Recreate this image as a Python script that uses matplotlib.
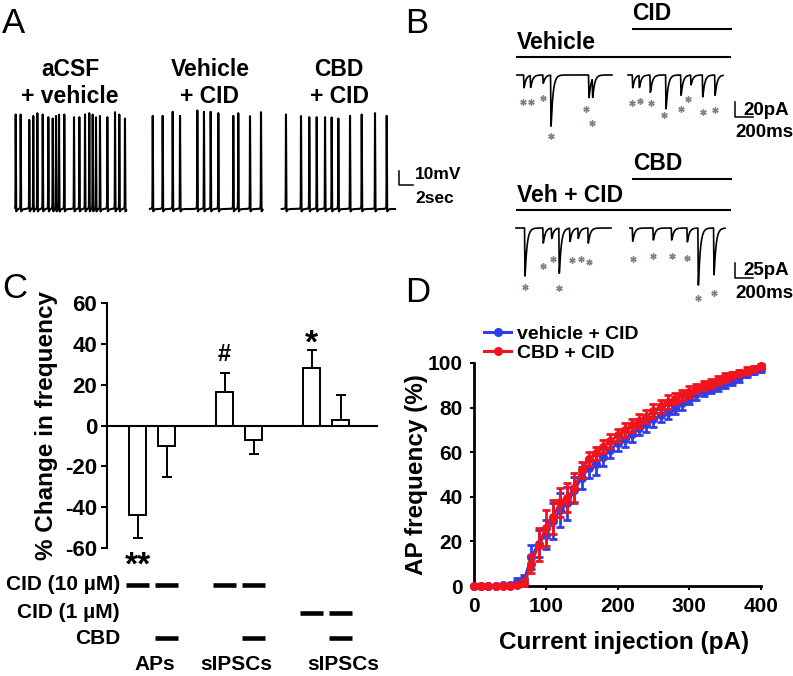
import numpy as np
import matplotlib
matplotlib.use("Agg")
import matplotlib.pyplot as plt
from matplotlib.lines import Line2D

plt.rcParams['font.family'] = ['Liberation Sans', 'DejaVu Sans']
plt.rcParams['font.weight'] = 'bold'
plt.rcParams['axes.labelweight'] = 'bold'
plt.rcParams['axes.unicode_minus'] = False

W, H = 793, 676

# ---------------- A: current clamp, spike times (s) and peaks (mV)
a_rest = -52
a_spk_1 = [0.1, 0.81, 2.04, 2.61, 3.19, 3.96, 4.76, 5.39, 5.86, 6.29, 7.04,
           8.43, 9.19, 10.0, 10.61, 11.1, 11.57, 12.14, 13.19, 14.29, 14.9, 15.71]
a_pk_1 = [18, 18, 14, 17, 19, 18, 16, 15, 17, 18, 18, 16, 16, 18, 19, 18, 16,
          17, 16, 20, 18, 15]
a_spk_2 = [0.39, 1.81, 3.24, 4.29, 6.76, 7.71, 8.67, 9.76, 11.9, 12.61, 14.29, 15.86]
a_pk_2 = [17, 17, 20, 17, 21, 20, 20, 19, 17, 19, 17, 20]
a_spk_3 = [0.61, 2.76, 3.94, 5.0, 6.19, 7.14, 8.09, 9.76, 11.43, 13.33, 15.0]
a_pk_3 = [18, 17, 16, 16, 16, 16, 15, 17, 18, 19, 17]
a_dur = [15.9, 16.1, 16.2]
a_titles = [("aCSF", "+ vehicle"), ("Vehicle", "+ CID"), ("CBD", "+ CID")]

# ---------------- B: voltage clamp sIPSCs, event times (ms) and amplitudes (pA)
b_veh_t = [78, 152, 292, 378, 800, 841]
b_veh_a = [17, 16, 11, 68, 30, 25]
b_veh_star_t = [63, 152, 292, 378, 767, 830]
b_veh_star_i = [-36, -36, -31, -82, -46, -64]
b_cid_t = [52, 126, 248, 422, 589, 700, 830, 967]
b_cid_a = [17, 16, 23, 45, 27, 13, 29, 27]
b_cid_star_t = [48, 133, 252, 400, 586, 670, 830, 967]
b_cid_star_i = [-37, -35, -37, -54, -46, -32, -49, -47]
b_vc_t = [100, 303, 397, 481, 600, 692, 803]
b_vc_a = [80, 25, 17, 75, 22, 17, 25]
b_vc_star_t = [100, 303, 414, 481, 619, 722, 811]
b_vc_star_i = [-98, -64, -51, -100, -53, -51, -56]
b_cbd_t = [30, 259, 463, 637, 759, 933]
b_cbd_a = [22, 20, 20, 23, 95, 78]
b_cbd_star_t = [30, 259, 463, 637, 752, 937]
b_cbd_star_i = [-52, -47, -47, -50, -117, -109]
b_dur = 1056

# ---------------- C: % change in frequency
c_vals = [-44, -10, 16.5, -7, 28, 2.5]
c_err = [11, 15, 9, 7, 9, 12.5]
c_pos = [0, 1, 3, 4, 6, 7]
c_cid10 = [0, 1, 3, 4]
c_cid1 = [6, 7]
c_cbd = [1, 4, 7]
c_groups = ["APs", "sIPSCs", "sIPSCs"]
c_group_pos = [0.6, 3.4, 7.1]
c_marks = [(0, -73, "**"), (3, 31.5, "#"), (6, 35.5, "*")]
c_yticks = [-60, -40, -20, 0, 20, 40, 60]

# ---------------- D: AP frequency vs current injection
current_pa = list(range(0, 410, 10))
veh_cid = [0, 0, 0, 0, 0.5, 0.5, 2, 3, 13, 19, 23, 29, 34, 37, 43, 48.5, 53, 54.5,
           58, 61, 64, 66, 68, 71, 72.5, 75, 76.5, 78, 80, 82, 84, 86, 87.5, 88.5,
           89.5, 91, 92, 93.5, 95, 96.5, 97.5]
veh_cid_err = [0, 0, 0, 0, 0.5, 0.5, 1.5, 2, 5.5, 6, 6.5, 8, 7.5, 7.5, 6, 5, 4.5,
               4.5, 4, 3.5, 3.5, 3.5, 3.5, 3.5, 3.5, 3.5, 3, 3, 3, 3, 2.5, 2.5, 2.5,
               2, 2, 2, 2, 2, 1.5, 1.5, 1.5]
cbd_cid = [0, 0, 0, 0, 0, 0, 0.5, 1.5, 10, 18.5, 26, 31, 37.5, 39.5, 44, 52, 57,
           59.5, 62.5, 65, 67.5, 70, 72, 74, 76, 78.5, 80.5, 82.5, 84, 85.5, 87,
           88.5, 90, 91, 92, 93.5, 94.5, 95.5, 96.5, 97.5, 98.5]
cbd_cid_err = [0, 0, 0, 0, 0, 0, 0.5, 1.5, 4, 7.5, 8, 7.5, 6.5, 6.5, 6.5, 3.5, 3,
               3, 3, 3, 3, 3, 3, 3, 3, 3, 3, 3, 2.5, 2.5, 2.5, 2, 2, 2, 2, 2, 1.5,
               1.5, 1.5, 1, 1]
d_xticks = [0, 100, 200, 300, 400]
d_yticks = [0, 20, 40, 60, 80, 100]

fig = plt.figure(figsize=(W / 100, H / 100), dpi=100)


def px_box(x0, y0, x1, y1):
    return [x0 / W, 1 - y1 / H, (x1 - x0) / W, (y1 - y0) / H]


def ftext(x, y, s, size, **kw):
    fig.text(x / W, 1 - y / H, s, fontsize=size, **kw)


def ap_trace(times, peaks, dur):
    t = np.arange(0, dur, 0.005)
    v = np.full_like(t, float(a_rest))
    for ts, pk in zip(times, peaks):
        d = t - ts
        v += (pk - a_rest) * np.exp(-0.5 * (d / 0.02) ** 2)
        v += np.where(d > 0, -3.0 * np.exp(-d / 0.15), 0)
        v += np.where(d < 0, 2.0 * np.exp(d / 0.12), 0)
    return t, v


def psc_trace(times, amps, dur):
    t = np.arange(0, dur, 1.0)
    cur = np.zeros_like(t)
    tr, td = 1.5, 22.0
    tpk = tr * td / (td - tr) * np.log(td / tr)
    norm = np.exp(-tpk / td) - np.exp(-tpk / tr)
    for te, a in zip(times, amps):
        s = t - te + tpk
        k = np.where(s > 0, (np.exp(-s / td) - np.exp(-s / tr)) / norm, 0)
        cur -= a * k
    return t, cur


def bare(ax):
    ax.set_axis_off()


# ---------------- panel A
a_starts = [15, 150, 281.7]
a_widths = [125, 125, 145]
a_data = [(a_spk_1, a_pk_1), (a_spk_2, a_pk_2), (a_spk_3, a_pk_3)]
a_centers = [70, 210, 339]
for i in range(3):
    x0 = a_starts[i] - 3
    ax = fig.add_axes(px_box(x0, 105, x0 + a_widths[i], 215))
    bare(ax)
    ax.set_xlim(-3 / 7, (a_widths[i] - 3) / 7)
    ax.set_ylim(a_rest - 6 / 1.35, a_rest + 104 / 1.35)
    t, v = ap_trace(a_data[i][0], a_data[i][1], a_dur[i])
    ax.plot(t, v, color='black', lw=1.5)
    ftext(a_centers[i], 76, a_titles[i][0], 16.5, ha='center')
    ftext(a_centers[i], 103, a_titles[i][1], 16.5, ha='center')
    if i == 2:
        sb_y = a_rest + 24 / 1.35
        ax.plot([16.76, 16.76, 18.76], [sb_y + 10, sb_y, sb_y], color='black',
                lw=1.1, clip_on=False)
ftext(415, 179, "10mV", 12.5)
ftext(415, 203, "2sec", 12.5)

# ---------------- panel B
rows = [
    dict(box=(505, 0, 795, 140), ylim=(-86.7, 100),
         traces=[(b_veh_t, b_veh_a, b_veh_star_t, b_veh_star_i, 133),
                 (b_cid_t, b_cid_a, b_cid_star_t, b_cid_star_i, 1367)],
         long_y=24, short_y=61.3, bar=(-56, 20)),
    dict(box=(505, 150, 795, 305), ylim=(-128.3, 130),
         traces=[(b_vc_t, b_vc_a, b_vc_star_t, b_vc_star_i, 122),
                 (b_cbd_t, b_cbd_a, b_cbd_star_t, b_cbd_star_i, 1389)],
         long_y=30, short_y=81.7, bar=(-84, 25)),
]
for row in rows:
    ax = fig.add_axes(px_box(*row['box']))
    bare(ax)
    ax.set_xlim(0, 3222)
    ax.set_ylim(*row['ylim'])
    for ev_t, ev_a, st_t, st_i, off in row['traces']:
        t, cur = psc_trace(ev_t, ev_a, b_dur)
        ax.plot(t + off, cur, color='black', lw=1.2)
        ax.plot(np.array(st_t) + off, st_i, linestyle='none', marker=(6, 2, 0),
                ms=4.5, mew=1.0, color='#8c7a84')
    ax.plot([122, 2511], [row['long_y']] * 2, color='black', lw=1.5,
            solid_capstyle='butt')
    ax.plot([1411, 2522], [row['short_y']] * 2, color='black', lw=1.5,
            solid_capstyle='butt')
    by, bh = row['bar']
    ax.plot([2556, 2556, 2756], [by + bh, by, by], color='black', lw=1.1,
            clip_on=False)

ftext(632, 20, "CID", 16.5)
ftext(517, 49, "Vehicle", 16.5)
ftext(633, 170, "CBD", 16.5)
ftext(517, 202, "Veh + CID", 16.5)
ftext(743, 115, "20pA", 13.5)
ftext(735, 137, "200ms", 13.5)
ftext(743, 275, "25pA", 13.5)
ftext(735, 298, "200ms", 13.5)

# ---------------- panel C
axc = fig.add_axes(px_box(107, 303, 377, 548))
axc.set_xlim((107 - 137.5) / 29, (377 - 137.5) / 29)
axc.set_ylim(-60, 60)
for sp in ['top', 'right']:
    axc.spines[sp].set_visible(False)
axc.spines['bottom'].set_position(('data', 0))
axc.spines['left'].set_linewidth(1.5)
axc.spines['bottom'].set_linewidth(1.5)
axc.set_xticks([])
axc.set_yticks(c_yticks, [str(v) for v in c_yticks], fontweight='bold',
               fontsize=16)
axc.tick_params(axis='y', length=4, width=1.5, pad=3)
axc.patch.set_alpha(0)
axc.bar(c_pos, c_vals, width=0.59, color='white', edgecolor='black', lw=1.4,
        zorder=2)
lower = [e if v < 0 else 0 for v, e in zip(c_vals, c_err)]
upper = [e if v >= 0 else 0 for v, e in zip(c_vals, c_err)]
axc.errorbar(c_pos, c_vals, yerr=[lower, upper], fmt='none', ecolor='black',
             elinewidth=1.4, capsize=3.6, capthick=1.4, zorder=1)
axc.set_ylabel("% Change in frequency", fontsize=17.5)
axc.yaxis.set_label_coords(-0.18, 0.5)
for xp, yp, s in c_marks:
    axc.text(xp, yp, s, ha='center', va='baseline',
             fontsize=24 if '*' in s else 17)
rows_c = [("CID (10 µM)", c_cid10, -78.1), ("CID (1 µM)", c_cid1, -91.8),
          ("CBD", c_cbd, -104.1)]
for label, ps, yy in rows_c:
    axc.text(-0.6, yy, label, ha='right', va='center', fontsize=15)
    for p in ps:
        axc.plot([p - 0.4, p + 0.4], [yy, yy], color='black', lw=3.3,
                 solid_capstyle='butt', clip_on=False)
for g, gp in zip(c_groups, c_group_pos):
    axc.text(gp, -117.3, g, ha='center', va='center', fontsize=15)

# ---------------- panel D
axd = fig.add_axes(px_box(474, 363, 761, 586))
axd.set_xlim(0, 400)
axd.set_ylim(0, 100)
for sp in ['top', 'right']:
    axd.spines[sp].set_visible(False)
for sp in ['left', 'bottom']:
    axd.spines[sp].set_linewidth(2)
axd.set_xticks(d_xticks, [str(v) for v in d_xticks], fontweight='bold',
               fontsize=15)
axd.set_yticks(d_yticks, [str(v) for v in d_yticks], fontweight='bold',
               fontsize=15)
axd.tick_params(length=3, width=1.5, pad=5)
blue, red = '#2f3ee6', '#f0141e'
axd.errorbar(current_pa, veh_cid, yerr=veh_cid_err, color=blue, lw=2,
             marker='o', ms=5.5, elinewidth=2, capsize=3.2, capthick=2,
             clip_on=False, zorder=3)
axd.errorbar(current_pa, cbd_cid, yerr=cbd_cid_err, color=red, lw=2,
             marker='o', ms=5.5, elinewidth=2, capsize=3.2, capthick=2,
             clip_on=False, zorder=4)
axd.set_xlabel("Current injection (pA)", fontsize=17.5)
axd.xaxis.set_label_coords(0.523, -0.2)
axd.set_ylabel("AP frequency (%)", fontsize=17.5)
axd.yaxis.set_label_coords(-0.16, 0.5)
handles = [Line2D([], [], color=blue, lw=2.2, marker='o', ms=5.5),
           Line2D([], [], color=red, lw=2.2, marker='o', ms=5.5)]
fig.legend(handles, ["vehicle + CID", "CBD + CID"], loc='upper left',
           bbox_to_anchor=(484 / W, 1 - 325 / H), frameon=False, fontsize=14,
           handlelength=1.4, handletextpad=0.3, labelspacing=0.1,
           borderpad=0, borderaxespad=0)

# ---------------- panel letters
ftext(2, 33, "A", 25, fontweight='normal')
ftext(405, 33, "B", 25, fontweight='normal')
ftext(2, 298, "C", 25, fontweight='normal')
ftext(405, 302, "D", 25, fontweight='normal')

fig.savefig("out.png", dpi=100)
